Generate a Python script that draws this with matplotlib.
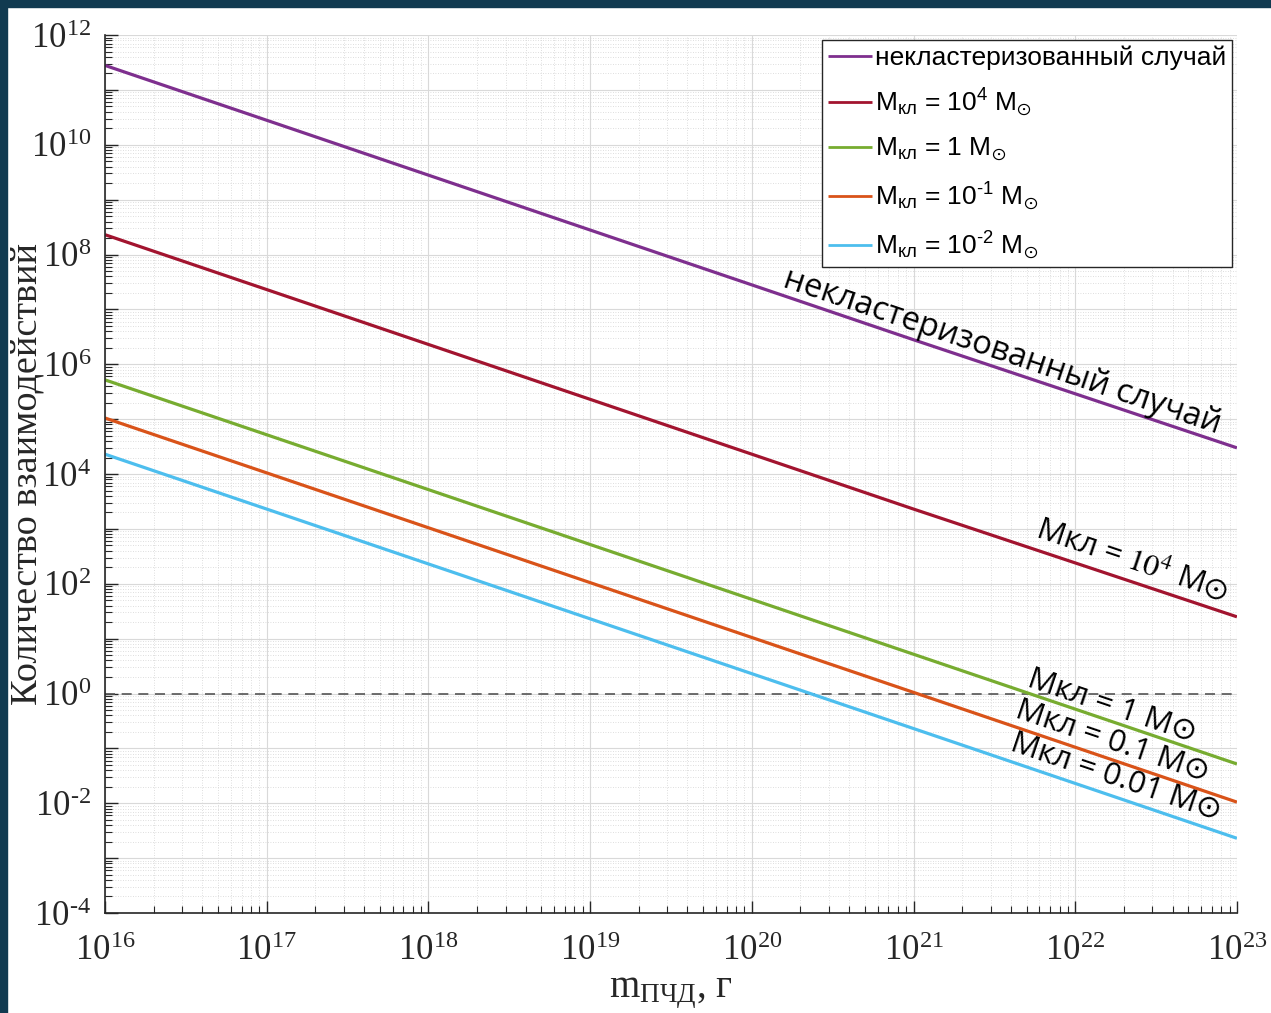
import numpy as np
import matplotlib
matplotlib.use("Agg")
import matplotlib.pyplot as plt
from matplotlib.patches import Rectangle
from matplotlib.ticker import LogLocator, FuncFormatter, NullFormatter

# mass of PBH, g (decade points)
mass = [1e16, 1e17, 1e18, 1e19, 1e20, 1e21, 1e22, 1e23]

# number of interactions
n_unclustered = [2.8e11, 2.8e10, 2.8e9, 2.8e8, 2.8e7, 2.8e6, 2.9e5, 3.0e4]
n_1e4 = [2.3e8, 2.3e7, 2.3e6, 2.3e5, 2.3e4, 2.3e3, 2.4e2, 2.5e1]
n_1 = [5.2e5, 5.2e4, 5.2e3, 5.2e2, 5.2e1, 5.2, 0.52, 0.052]
n_01 = [1.05e5, 1.05e4, 1.05e3, 1.05e2, 10.5, 1.05, 0.105, 0.0105]
n_001 = [2.3e4, 2.3e3, 2.3e2, 23, 2.3, 0.23, 0.023, 0.0023]

HY = "\u2010"  # short hyphen instead of a minus sign

series = [n_unclustered, n_1e4, n_1, n_01, n_001]
colors = ["#7E2F8E", "#A2142F", "#77AC30", "#D95319", "#4DBEEE"]
legend_labels = [
    "некластеризованный случай",
    r"M$_{\mathregular{кл}}$ = 10$^{\mathregular{4}}$ M$_{\odot}$",
    r"M$_{\mathregular{кл}}$ = 1 M$_{\odot}$",
    r"M$_{\mathregular{кл}}$ = 10$^{\mathregular{" + HY + r"1}}$ M$_{\odot}$",
    r"M$_{\mathregular{кл}}$ = 10$^{\mathregular{" + HY + r"2}}$ M$_{\odot}$",
]
# in-plot labels (text, x, y, size)
line_labels = [
    ("некластеризованный случай", 10**21.55, 10**6.22, 23.5),
    (r"Mкл = $\mathrm{10^4}$ M$\odot$", 10**22.35, 10**2.43, 22.5),
    ("Mкл = 1 M⊙", 10**22.23, 10**-0.23, 22.5),
    ("Mкл = 0.1 M⊙", 10**22.23, 10**-0.88, 22.5),
    ("Mкл = 0.01 M⊙", 10**22.25, 10**-1.54, 22.5),
]

plt.rcParams["mathtext.default"] = "regular"

fig = plt.figure(figsize=(12.71, 10.13), dpi=100)
fig.patch.set_facecolor("white")
ax = fig.add_axes([0.0826, 0.0987, 0.8906, 0.8667])

for vals, col, lab in zip(series, colors, legend_labels):
    ax.plot(mass, vals, color=col, lw=2.3, label=lab, solid_capstyle="butt")

ax.axhline(1, color="#555555", lw=1.2, ls=(0, (6, 4)), zorder=1)

ax.set_xscale("log")
ax.set_yscale("log")
ax.set_xlim(1e16, 1e23)
ax.set_ylim(1e-4, 1e12)

ax.xaxis.set_major_locator(LogLocator(base=10, numticks=100))
ax.yaxis.set_major_locator(LogLocator(base=10, numticks=100))
ax.xaxis.set_minor_locator(LogLocator(base=10, subs=np.arange(2, 10), numticks=100))
ax.yaxis.set_minor_locator(LogLocator(base=10, subs=np.arange(2, 10), numticks=100))
ax.xaxis.set_minor_formatter(NullFormatter())
ax.yaxis.set_minor_formatter(NullFormatter())


def exp_label(e):
    s = str(abs(e))
    if e < 0:
        s = HY + s
    return r"$\mathdefault{10^{%s}}$" % s


def fmt_y(v, pos):
    e = int(round(np.log10(v)))
    if e % 2:
        return ""
    return exp_label(e)


def fmt_x(v, pos):
    return exp_label(int(round(np.log10(v))))


ax.yaxis.set_major_formatter(FuncFormatter(fmt_y))
ax.xaxis.set_major_formatter(FuncFormatter(fmt_x))

ax.grid(which="major", color="#d9d9d9", lw=0.8, ls="-")
ax.grid(which="minor", color="#d4d4d4", lw=0.6, ls=(0, (1, 2)))
ax.set_axisbelow(True)

for s in ["top", "right"]:
    ax.spines[s].set_visible(False)
for s in ["left", "bottom"]:
    ax.spines[s].set_color("#262626")
    ax.spines[s].set_linewidth(1.2)

ax.tick_params(which="both", direction="in", colors="#262626", top=False, right=False)
ax.tick_params(which="major", length=9, width=1.0, labelsize=25)
ax.tick_params(axis="x", which="major", pad=16)
ax.tick_params(axis="y", which="major", pad=10)
ax.tick_params(which="minor", length=5, width=0.8)
for t in ax.get_xticklabels() + ax.get_yticklabels():
    t.set_fontfamily("Liberation Serif")
    t.set_color("#262626")

ax.set_xlabel(r"m$_{\mathregular{ПЧД}}$, г", fontsize=28, family="Liberation Serif",
              color="#262626")
ax.set_ylabel("Количество взаимодействий", fontsize=27.5, family="Liberation Serif",
              color="#262626")
ax.yaxis.set_label_coords(-0.053, 0.5)
ax.xaxis.set_label_coords(0.5, -0.07)

leg = ax.legend(loc="upper right", prop={"family": "Liberation Sans", "size": 19},
                frameon=True, fancybox=False, edgecolor="#262626", framealpha=1,
                borderaxespad=0.2, handlelength=1.7, handletextpad=0.1,
                labelspacing=0.64, borderpad=0.2)
leg.get_frame().set_linewidth(1.0)
for h in leg.get_lines():
    h.set_linewidth(2.0)

# angle of the lines on screen
p0 = ax.transData.transform((mass[0], n_unclustered[0]))
p1 = ax.transData.transform((mass[-1], n_unclustered[-1]))
angle = np.degrees(np.arctan2(p1[1] - p0[1], p1[0] - p0[0]))

for txt, x, y, fs in line_labels:
    ax.text(x, y, txt, fontsize=fs, family=["Open Sans", "DejaVu Sans"],
            rotation=angle, rotation_mode="anchor", ha="center", va="center",
            math_fontfamily="stix", color="black")

# dark frame on top and left
fig.patches.append(Rectangle((0, 1 - 7 / 1013), 1, 7 / 1013, transform=fig.transFigure,
                             color="#113a50", zorder=10))
fig.patches.append(Rectangle((0, 0), 7 / 1271, 1, transform=fig.transFigure,
                             color="#113a50", zorder=10))

fig.savefig("out.png", dpi=100, facecolor="white")
